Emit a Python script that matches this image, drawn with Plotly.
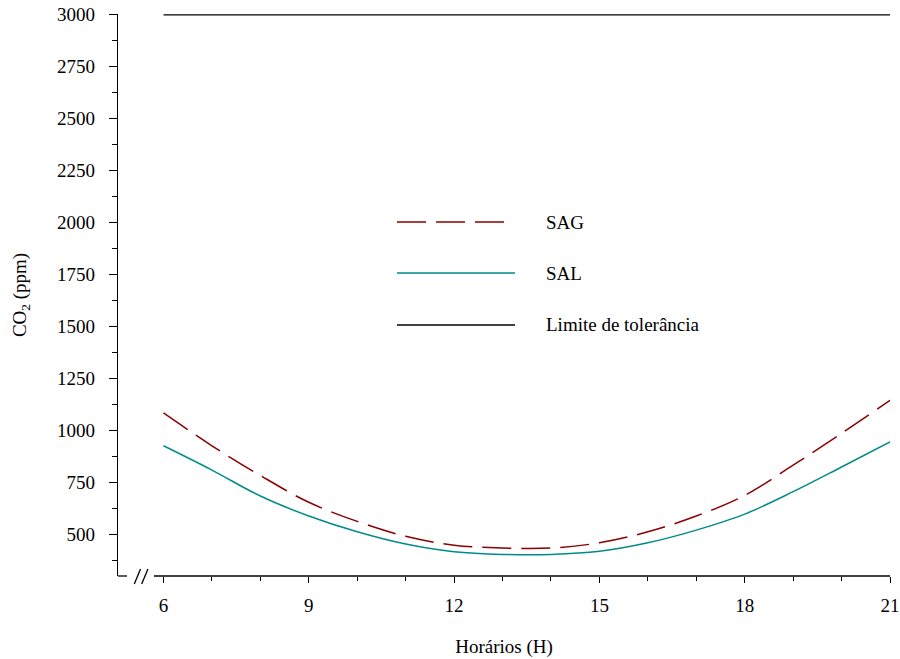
import plotly.graph_objects as go

hours = [6, 7, 8, 9, 10, 11, 12, 13, 14, 15, 16, 17, 18, 19, 20, 21]
sag = [1083, 925, 782, 653, 561, 489, 446, 433, 433, 458, 511, 587, 686, 832, 985, 1144]
sal = [925, 808, 683, 587, 511, 452, 415, 402, 402, 417, 458, 519, 596, 704, 823, 944]
limite = [3000] * len(hours)

x_ticks = [6, 9, 12, 15, 18, 21]
y_ticks = [500, 750, 1000, 1250, 1500, 1750, 2000, 2250, 2500, 2750, 3000]
legend_names = ["SAG", "SAL", "Limite de tolerância"]

C_SAG = "#8B0000"
C_SAL = "#008B8B"
C_LIM = "#000000"
FONT = "Liberation Serif, Times New Roman, serif"
FS = 19

fig = go.Figure()
fig.add_trace(go.Scatter(x=hours, y=limite, mode="lines", name=legend_names[2],
                         line=dict(color=C_LIM, width=1.3), showlegend=False))
fig.add_trace(go.Scatter(x=hours, y=sal, mode="lines", name=legend_names[1],
                         line=dict(color=C_SAL, width=1.5, shape="spline"), showlegend=False))
fig.add_trace(go.Scatter(x=hours, y=sag, mode="lines", name=legend_names[0],
                         line=dict(color=C_SAG, width=1.5, shape="spline", dash="29px,10px"),
                         showlegend=False))

# plot area geometry (pixels) for decorative elements
L, R, T, B = 118, 890, 14, 576
W, H = R - L, B - T

def px(xp):
    return (xp - L) / W

def py(yp):
    return (B - yp) / H

shapes = []
# broken x axis line
shapes.append(dict(type="line", xref="paper", yref="paper", x0=0, x1=px(127), y0=0, y1=0,
                   line=dict(color="black", width=1.3)))
shapes.append(dict(type="line", xref="paper", yref="paper", x0=px(154), x1=1, y0=0, y1=0,
                   line=dict(color="black", width=1.3)))
# break marks //
for x0 in (134.3, 141.7):
    shapes.append(dict(type="line", xref="paper", yref="paper", x0=px(x0), x1=px(x0 + 6.2),
                       y0=py(584), y1=py(569), line=dict(color="black", width=1.3)))

# manual legend
leg_y = [222, 273, 325]
leg_colors = [C_SAG, C_SAL, C_LIM]
leg_dash = ["29px,10px", "solid", "solid"]
leg_end = [505, 515, 515]
annotations = []
for name, yy, c, d, xe in zip(legend_names, leg_y, leg_colors, leg_dash, leg_end):
    shapes.append(dict(type="line", xref="paper", yref="paper", x0=px(397), x1=px(xe),
                       y0=py(yy), y1=py(yy), line=dict(color=c, width=1.5, dash=d)))
    annotations.append(dict(xref="paper", yref="paper", x=px(544), y=py(yy), text=name,
                            showarrow=False, xanchor="left", yanchor="middle",
                            font=dict(family=FONT, size=FS, color="black")))

x_left = 6 - (163.5 - L) / ((R - 163.5) / 15)

fig.update_layout(
    width=900, height=659,
    margin=dict(l=L, r=900 - R, t=T, b=659 - B, autoexpand=False),
    plot_bgcolor="white", paper_bgcolor="white",
    font=dict(family=FONT, size=FS, color="black"),
    shapes=shapes, annotations=annotations,
    xaxis=dict(range=[x_left, 21], tickvals=x_ticks, ticks="outside", ticklen=6, tickwidth=1.3,
               tickcolor="black", showline=False, showgrid=False, zeroline=False,
               ticklabelstandoff=6, automargin=False,
               minor=dict(dtick=1, tick0=0, ticks="outside", ticklen=4, tickwidth=1.3,
                          tickcolor="black", showgrid=False),
               title=dict(text="Horários (H)", standoff=24, font=dict(size=FS))),
    yaxis=dict(range=[500 - (B - 534) / (520 / 2500), 3004], tickvals=y_ticks, ticks="outside",
               ticklen=8, tickwidth=1.3, tickcolor="black", showline=True, linecolor="black",
               linewidth=1.3, showgrid=False, zeroline=False, ticklabelstandoff=10,
               automargin=False,
               minor=dict(dtick=125, tick0=0, ticks="outside", ticklen=5, tickwidth=1.3,
                          tickcolor="black", showgrid=False),
               title=dict(text="CO<sub>2</sub> (ppm)", standoff=25, font=dict(size=FS))),
)

fig.write_html("out.html", config={"displayModeBar": False},
               post_script="document.body.style.margin='0';document.body.style.overflow='hidden';")
